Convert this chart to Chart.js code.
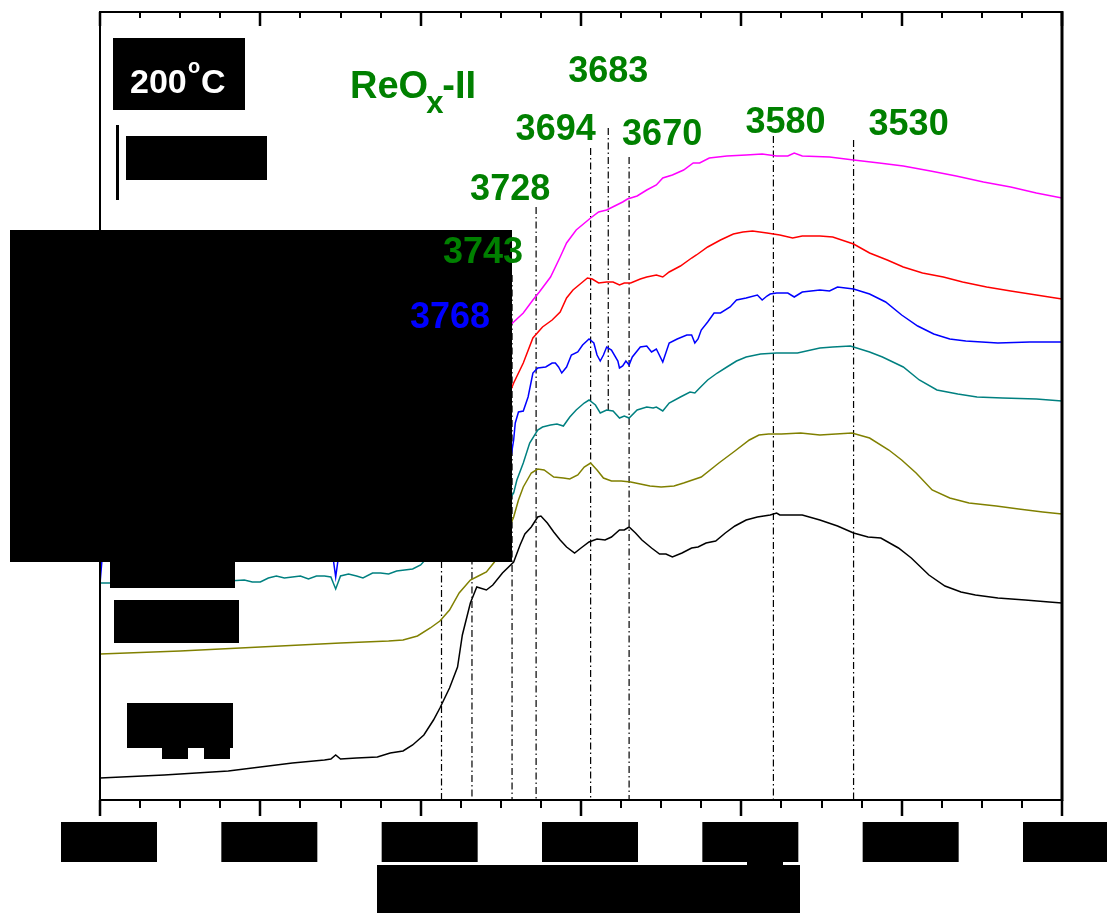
<!DOCTYPE html>
<html>
<head>
<meta charset="utf-8">
<script src="https://cdn.jsdelivr.net/npm/chart.js@4.4.0/dist/chart.umd.min.js"></script>
<style>
  body { margin: 0; background: #fff; }
  canvas { display: block; }
</style>
</head>
<body>
<canvas id="myChart" width="1107" height="915"></canvas>
<script>
// spectra: [wavenumber (cm-1), absorbance with offset]
const magentaSpectrum = [[4000,3.80],[3900,3.85],[3800,4.00],[3780,4.15],[3770,4.30],[3760,4.48],[3750,4.67],[3742,4.78],[3736,4.87],[3730,5.00],[3726,5.08],[3719,5.23],[3713,5.43],[3709,5.57],[3703,5.70],[3694,5.82],[3689,5.88],[3684,5.90],[3679,5.94],[3674,5.98],[3671,6.01],[3665,6.04],[3659,6.10],[3653,6.15],[3649,6.22],[3643,6.25],[3636,6.30],[3630,6.37],[3626,6.37],[3620,6.42],[3609,6.44],[3597,6.45],[3587,6.46],[3578,6.44],[3571,6.44],[3567,6.47],[3562,6.44],[3545,6.43],[3530,6.40],[3514,6.37],[3499,6.34],[3482,6.29],[3466,6.24],[3449,6.18],[3432,6.13],[3416,6.07],[3400,6.02]];

const redSpectrum = [[4000,3.15],[3900,3.20],[3800,3.25],[3780,3.30],[3770,3.40],[3760,3.60],[3750,3.90],[3745,4.05],[3742,4.17],[3736,4.37],[3730,4.62],[3724,4.73],[3718,4.80],[3713,4.88],[3709,5.02],[3705,5.10],[3699,5.18],[3696,5.22],[3693,5.21],[3689,5.17],[3684,5.18],[3680,5.18],[3676,5.15],[3673,5.17],[3669,5.17],[3663,5.21],[3659,5.23],[3653,5.25],[3649,5.23],[3645,5.28],[3638,5.34],[3631,5.42],[3628,5.45],[3621,5.53],[3613,5.60],[3605,5.66],[3599,5.68],[3593,5.69],[3584,5.67],[3576,5.65],[3568,5.62],[3562,5.64],[3551,5.64],[3543,5.63],[3530,5.56],[3520,5.47],[3509,5.40],[3499,5.33],[3487,5.27],[3474,5.23],[3462,5.18],[3447,5.13],[3432,5.09],[3416,5.05],[3400,5.01]];

const blueSpectrum = [[4000,2.16],[3998,2.55],[3950,2.55],[3900,2.56],[3860,2.58],[3856,2.58],[3853,2.23],[3850,2.58],[3800,2.63],[3770,2.70],[3760,2.80],[3750,3.00],[3745,3.30],[3742,3.60],[3741,3.77],[3739,3.88],[3736,3.89],[3733,4.03],[3730,4.27],[3727,4.32],[3722,4.33],[3718,4.37],[3716,4.37],[3714,4.33],[3712,4.27],[3709,4.33],[3706,4.45],[3702,4.48],[3699,4.55],[3695,4.61],[3692,4.57],[3690,4.45],[3688,4.39],[3686,4.45],[3684,4.53],[3681,4.50],[3677,4.39],[3676,4.32],[3674,4.34],[3672,4.39],[3670,4.35],[3668,4.43],[3663,4.53],[3659,4.54],[3656,4.48],[3653,4.51],[3649,4.38],[3645,4.57],[3640,4.61],[3634,4.65],[3631,4.65],[3629,4.57],[3627,4.61],[3625,4.70],[3621,4.78],[3617,4.87],[3613,4.87],[3607,4.93],[3603,5.00],[3597,5.02],[3590,5.05],[3587,5.00],[3584,5.04],[3582,5.06],[3578,5.07],[3571,5.07],[3567,5.03],[3562,5.08],[3551,5.10],[3545,5.09],[3540,5.13],[3530,5.11],[3520,5.06],[3510,4.98],[3500,4.85],[3490,4.74],[3480,4.66],[3470,4.61],[3460,4.59],[3450,4.58],[3440,4.57],[3420,4.58],[3400,4.58]];

const tealSpectrum = [[4000,2.17],[3990,2.17],[3960,2.18],[3920,2.19],[3910,2.20],[3905,2.18],[3900,2.18],[3895,2.22],[3890,2.24],[3885,2.22],[3880,2.23],[3875,2.24],[3870,2.21],[3865,2.24],[3860,2.24],[3856,2.23],[3853,2.11],[3850,2.24],[3845,2.26],[3840,2.24],[3836,2.22],[3830,2.27],[3825,2.27],[3820,2.26],[3815,2.29],[3810,2.30],[3805,2.31],[3800,2.35],[3795,2.44],[3780,2.55],[3760,2.75],[3750,2.90],[3745,3.00],[3742,3.07],[3740,3.20],[3736,3.37],[3732,3.57],[3727,3.70],[3724,3.73],[3719,3.75],[3715,3.76],[3711,3.74],[3707,3.83],[3703,3.90],[3698,3.97],[3695,4.00],[3691,3.95],[3688,3.87],[3684,3.90],[3680,3.89],[3676,3.82],[3673,3.84],[3670,3.82],[3665,3.90],[3659,3.93],[3655,3.92],[3653,3.93],[3649,3.89],[3645,3.97],[3638,4.03],[3632,4.08],[3629,4.07],[3626,4.12],[3621,4.20],[3615,4.27],[3609,4.33],[3603,4.39],[3597,4.43],[3588,4.46],[3578,4.47],[3565,4.47],[3551,4.52],[3543,4.53],[3532,4.54],[3520,4.48],[3512,4.43],[3499,4.33],[3489,4.20],[3478,4.10],[3465,4.06],[3453,4.03],[3437,4.02],[3416,4.01],[3400,3.99]];

const oliveSpectrum = [[4000,1.46],[3950,1.49],[3900,1.53],[3850,1.57],[3820,1.59],[3811,1.60],[3802,1.64],[3794,1.72],[3788,1.79],[3782,1.90],[3776,2.07],[3769,2.20],[3764,2.24],[3759,2.28],[3754,2.38],[3748,2.60],[3742,2.83],[3739,3.00],[3736,3.13],[3731,3.27],[3727,3.31],[3723,3.30],[3717,3.23],[3711,3.22],[3707,3.21],[3702,3.25],[3698,3.33],[3694,3.37],[3690,3.30],[3686,3.22],[3681,3.19],[3675,3.19],[3669,3.18],[3663,3.16],[3657,3.14],[3650,3.13],[3642,3.14],[3636,3.17],[3625,3.23],[3614,3.37],[3604,3.49],[3595,3.60],[3589,3.65],[3583,3.66],[3575,3.66],[3563,3.67],[3551,3.65],[3531,3.67],[3520,3.62],[3508,3.50],[3500,3.40],[3491,3.27],[3481,3.10],[3470,3.02],[3458,2.97],[3441,2.94],[3427,2.91],[3412,2.88],[3400,2.86]];

const blackSpectrum = [[4000,0.22],[3960,0.25],[3940,0.27],[3920,0.29],[3900,0.33],[3880,0.37],[3860,0.40],[3856,0.41],[3853,0.45],[3850,0.41],[3840,0.42],[3827,0.43],[3819,0.47],[3811,0.49],[3805,0.55],[3798,0.65],[3792,0.80],[3788,0.92],[3782,1.12],[3777,1.33],[3774,1.65],[3769,1.97],[3765,2.13],[3759,2.10],[3755,2.15],[3749,2.27],[3742,2.38],[3738,2.55],[3735,2.66],[3731,2.73],[3727,2.83],[3725,2.84],[3721,2.77],[3717,2.68],[3713,2.60],[3709,2.53],[3704,2.47],[3700,2.52],[3695,2.58],[3690,2.61],[3685,2.60],[3681,2.63],[3676,2.70],[3673,2.70],[3670,2.73],[3666,2.67],[3662,2.60],[3656,2.52],[3651,2.46],[3647,2.46],[3643,2.43],[3637,2.47],[3631,2.52],[3627,2.53],[3622,2.57],[3616,2.59],[3610,2.67],[3604,2.74],[3597,2.80],[3590,2.83],[3582,2.85],[3578,2.87],[3576,2.85],[3562,2.85],[3551,2.80],[3540,2.74],[3530,2.67],[3521,2.63],[3513,2.62],[3502,2.52],[3494,2.42],[3483,2.25],[3473,2.14],[3463,2.08],[3454,2.05],[3440,2.02],[3423,2.00],[3408,1.98],[3400,1.97]];

// band positions (cm-1) and the span of each dash-dot guide line
const bandWn = [3787, 3768, 3743, 3728, 3694, 3683, 3670, 3580, 3530];
const bandTop = [5.00, 4.60, 5.25, 5.93, 6.52, 6.72, 6.43, 6.64, 6.60];
const bandBottom = [0, 0, 0, 0, 0, 3.90, 0, 0, 0];

// x axis ticks
const majorTicks = [4000, 3900, 3800, 3700, 3600, 3500, 3400];
const minorStep = 25;

const spectra = [
  { data: magentaSpectrum, color: '#FF00FF' },
  { data: redSpectrum, color: '#FF0000' },
  { data: blueSpectrum, color: '#0000FF' },
  { data: tealSpectrum, color: '#008080' },
  { data: oliveSpectrum, color: '#808000' },
  { data: blackSpectrum, color: '#000000' },
];

const datasets = spectra.map(s => ({
  data: s.data.map(([x, y]) => ({ x, y })),
  borderColor: s.color,
  borderWidth: 1.5,
  pointRadius: 0,
  fill: false,
}));

// dash-dot guides go after the spectra so they are drawn underneath
bandWn.forEach((wn, i) => {
  datasets.push({
    data: [{ x: wn, y: bandTop[i] }, { x: wn, y: bandBottom[i] }],
    borderColor: '#000',
    borderWidth: 1.2,
    borderDash: [7, 3, 1.5, 3],
    pointRadius: 0,
    fill: false,
  });
});

// band labels: text colour, offset from the guide line, baseline
const bandLabels = [
  { wn: 3768, color: '#0000FF', dx: -62, y: 328 },
  { wn: 3743, color: '#008000', dx: -69, y: 263 },
  { wn: 3728, color: '#008000', dx: -66, y: 200 },
  { wn: 3694, color: '#008000', dx: -75, y: 140 },
  { wn: 3683, color: '#008000', dx: -40, y: 82 },
  { wn: 3670, color: '#008000', dx: -7, y: 145 },
  { wn: 3580, color: '#008000', dx: -28, y: 133 },
  { wn: 3530, color: '#008000', dx: 15, y: 135 },
];

const decorations = {
  id: 'decorations',
  afterDraw(chart) {
    const ctx = chart.ctx;
    const area = chart.chartArea;
    const xs = chart.scales.x;
    ctx.save();

    // frame
    ctx.strokeStyle = '#000';
    ctx.lineWidth = 2;
    ctx.strokeRect(area.left, area.top, area.right - area.left, area.bottom - area.top);
    ctx.lineWidth = 3;
    ctx.beginPath();
    ctx.moveTo(area.right, area.top - 1);
    ctx.lineTo(area.right, area.bottom + 1);
    ctx.stroke();

    // ticks: outward at the bottom, inward at the top
    for (let v = 3400; v <= 4000; v += minorStep) {
      const px = Math.round(xs.getPixelForValue(v));
      const major = majorTicks.includes(v);
      ctx.lineWidth = major ? 2.5 : 2;
      ctx.beginPath();
      ctx.moveTo(px, area.bottom);
      ctx.lineTo(px, area.bottom + (major ? 16 : 8));
      ctx.moveTo(px, area.top);
      ctx.lineTo(px, area.top + (major ? 14 : 6));
      ctx.stroke();
    }

    // blacked-out blocks
    ctx.fillStyle = '#000';
    majorTicks.forEach(v => {
      const px = xs.getPixelForValue(v);
      ctx.fillRect(px - 39, 822, 96, 40);
    });
    [
      [113, 38, 132, 72],
      [126, 136, 141, 44],
      [10, 230, 502, 332],
      [110, 562, 125, 26],
      [114, 600, 125, 43],
      [127, 703, 106, 45],
      [162, 748, 26, 11],
      [204, 748, 26, 11],
      [377, 865, 423, 48],
      [747, 855, 36, 11],
    ].forEach(r => ctx.fillRect(r[0], r[1], r[2], r[3]));

    // scale bar
    ctx.fillRect(116, 125, 3, 75);

    // temperature tag
    ctx.fillStyle = '#fff';
    ctx.textBaseline = 'alphabetic';
    ctx.textAlign = 'left';
    ctx.font = 'bold 34px "Liberation Sans", Arial, sans-serif';
    ctx.fillText('200', 130, 93);
    ctx.fillText('C', 201, 93);
    ctx.font = 'bold 20px "Liberation Sans", Arial, sans-serif';
    ctx.fillText('o', 188, 73);

    // sample name
    ctx.fillStyle = '#008000';
    ctx.font = 'bold 38px "Liberation Sans", Arial, sans-serif';
    ctx.fillText('ReO', 350, 98);
    const w = ctx.measureText('ReO').width;
    ctx.font = 'bold 31px "Liberation Sans", Arial, sans-serif';
    ctx.fillText('x', 350 + w - 2, 113);
    const wx = ctx.measureText('x').width;
    ctx.font = 'bold 38px "Liberation Sans", Arial, sans-serif';
    ctx.fillText('-II', 350 + w + wx - 3, 98);

    // band labels
    ctx.font = 'bold 36px "Liberation Sans", Arial, sans-serif';
    bandLabels.forEach(l => {
      ctx.fillStyle = l.color;
      ctx.fillText(String(l.wn), xs.getPixelForValue(l.wn) + l.dx, l.y);
    });

    ctx.restore();
  }
};

const elem = document.getElementById('myChart');
const chart = new Chart(elem, {
  type: 'line',
  data: { datasets: datasets },
  options: {
    responsive: false,
    animation: false,
    devicePixelRatio: 1,
    layout: { padding: { left: 100, right: 45, top: 12, bottom: 0 } },
    plugins: {
      legend: { display: false },
      tooltip: { enabled: false },
    },
    elements: { line: { tension: 0 } },
    scales: {
      x: {
        type: 'linear',
        min: 3400,
        max: 4000,
        reverse: true,
        grid: { display: false, drawTicks: false },
        border: { display: false },
        ticks: {
          stepSize: 100,
          padding: 26,
          color: '#000',
          font: { family: '"Liberation Sans", Arial, sans-serif', size: 30, weight: 'bold' },
          callback: (value) => String(value),
        },
        title: {
          display: true,
          text: 'Wavenumber (cm⁻¹)',
          color: '#000',
          font: { family: '"Liberation Sans", Arial, sans-serif', size: 34, weight: 'bold' },
          padding: { top: 0, bottom: 6 },
        },
        // fixed axis band height; end labels may overhang the padding
        afterFit: (scale) => {
          scale.height = 115;
          scale.paddingLeft = 0;
          scale.paddingRight = 0;
        },
      },
      y: {
        display: false,
        min: 0,
        max: 7.88,
      },
    },
  },
  plugins: [decorations],
});
</script>
</body>
</html>
